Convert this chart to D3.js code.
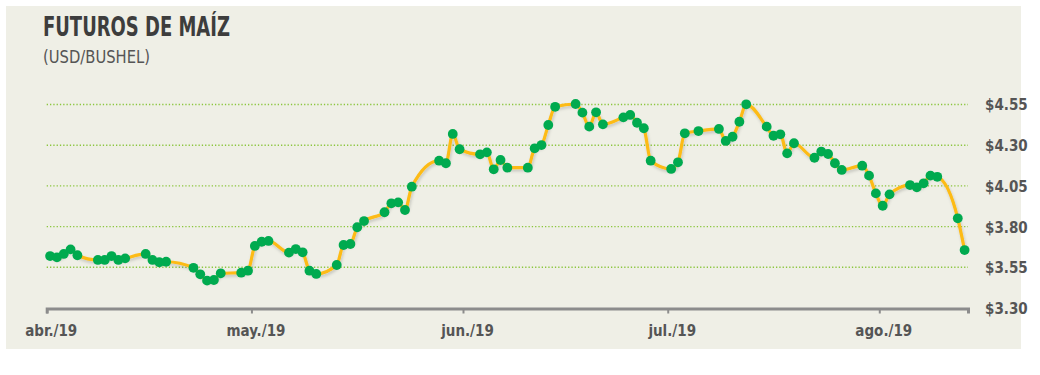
<!DOCTYPE html>
<html>
<head>
<meta charset="utf-8">
<script src="https://cdn.jsdelivr.net/npm/d3@7"></script>
<style>
  body { margin: 0; background: #fff; }
  svg { display: block; }
  text { font-family: "Liberation Sans Narrow", "DejaVu Sans Condensed", "Roboto", sans-serif; }
</style>
</head>
<body>
<svg id="s" width="1040" height="375"></svg>
<script>
const dates = [
  '2019-04-01', '2019-04-02', '2019-04-03', '2019-04-04', '2019-04-05',
  '2019-04-08', '2019-04-09', '2019-04-10', '2019-04-11', '2019-04-12',
  '2019-04-15', '2019-04-16', '2019-04-17', '2019-04-18',
  '2019-04-22', '2019-04-23', '2019-04-24', '2019-04-25', '2019-04-26',
  '2019-04-29', '2019-04-30', '2019-05-01', '2019-05-02', '2019-05-03',
  '2019-05-06', '2019-05-07', '2019-05-08', '2019-05-09', '2019-05-10',
  '2019-05-13', '2019-05-14', '2019-05-15', '2019-05-16', '2019-05-17',
  '2019-05-20', '2019-05-21', '2019-05-22', '2019-05-23', '2019-05-24',
  '2019-05-28', '2019-05-29', '2019-05-30', '2019-05-31',
  '2019-06-03', '2019-06-04', '2019-06-05', '2019-06-06', '2019-06-07',
  '2019-06-10', '2019-06-11', '2019-06-12', '2019-06-13', '2019-06-14',
  '2019-06-17', '2019-06-18', '2019-06-19', '2019-06-20', '2019-06-21',
  '2019-06-24', '2019-06-25', '2019-06-26', '2019-06-27', '2019-06-28',
  '2019-07-01', '2019-07-02', '2019-07-03', '2019-07-05',
  '2019-07-08', '2019-07-09', '2019-07-10', '2019-07-11', '2019-07-12',
  '2019-07-15', '2019-07-16', '2019-07-17', '2019-07-18', '2019-07-19',
  '2019-07-22', '2019-07-23', '2019-07-24', '2019-07-25', '2019-07-26',
  '2019-07-29', '2019-07-30', '2019-07-31', '2019-08-01', '2019-08-02',
  '2019-08-05', '2019-08-06', '2019-08-07', '2019-08-08', '2019-08-09',
  '2019-08-12', '2019-08-13',
];
const prices = [
  3.619, 3.611, 3.632, 3.660, 3.624,
  3.595, 3.595, 3.619, 3.595, 3.605,
  3.632, 3.595, 3.581, 3.584,
  3.547, 3.507, 3.468, 3.472, 3.513,
  3.517, 3.529, 3.681, 3.707, 3.712,
  3.640, 3.662, 3.642, 3.529, 3.509,
  3.564, 3.687, 3.693, 3.796, 3.834,
  3.888, 3.943, 3.949, 3.902, 4.045,
  4.205, 4.189, 4.369, 4.275,
  4.244, 4.256, 4.152, 4.209, 4.162,
  4.162, 4.281, 4.301, 4.424, 4.536,
  4.553, 4.500, 4.414, 4.502, 4.428,
  4.471, 4.486, 4.438, 4.404, 4.205,
  4.154, 4.195, 4.373, 4.387,
  4.400, 4.326, 4.352, 4.444, 4.551,
  4.414, 4.358, 4.367, 4.250, 4.312,
  4.223, 4.261, 4.246, 4.189, 4.148,
  4.174, 4.113, 4.004, 3.928, 3.998,
  4.055, 4.041, 4.066, 4.113, 4.106,
  3.851, 3.656,
];
const yTicks = [3.30, 3.55, 3.80, 4.05, 4.30, 4.55];
const monthTicks = ['2019-04-01', '2019-05-01', '2019-06-01', '2019-07-01', '2019-08-01'];
const monthLabels = ['abr./19', 'may./19', 'jun./19', 'jul./19', 'ago./19'];

const parse = d3.timeParse('%Y-%m-%d');
// points sit in the middle of their day
const data = dates.map((d, i) => ({ date: d3.timeHour.offset(parse(d), 12), value: prices[i] }));

const svg = d3.select('#s');

svg.append('rect')
  .attr('x', 6).attr('y', 6)
  .attr('width', 1015).attr('height', 343)
  .attr('fill', '#efefe6');

const x = d3.scaleTime()
  .domain([parse('2019-04-01'), parse('2019-08-14')])
  .range([46.7, 968]);
const y = d3.scaleLinear()
  .domain([3.30, 4.55])
  .range([308, 104.5]);

const defs = svg.append('defs');
defs.append('filter').attr('id', 'sh')
  .attr('x', '-5%').attr('y', '-20%').attr('width', '110%').attr('height', '140%')
  .append('feDropShadow')
  .attr('dx', 1).attr('dy', 2).attr('stdDeviation', 1.5)
  .attr('flood-color', '#000').attr('flood-opacity', 0.18);

// titles (squeezed to the condensed face of the original)
svg.append('text')
  .attr('x', 43).attr('y', 36)
  .attr('font-size', 27).attr('font-weight', 'bold')
  .attr('fill', '#3d3d3d')
  .attr('textLength', 187).attr('lengthAdjust', 'spacingAndGlyphs')
  .text('FUTUROS DE MAÍZ');
svg.append('text')
  .attr('x', 43).attr('y', 63)
  .attr('font-size', 18)
  .attr('fill', '#555')
  .attr('textLength', 107).attr('lengthAdjust', 'spacingAndGlyphs')
  .text('(USD/BUSHEL)');

// gridlines
svg.append('g')
  .selectAll('line')
  .data(yTicks.slice(1))
  .enter()
  .append('line')
  .attr('x1', x.range()[0]).attr('x2', x.range()[1])
  .attr('y1', d => y(d)).attr('y2', d => y(d))
  .attr('stroke', '#8cc63f')
  .attr('stroke-width', 1.4)
  .attr('stroke-dasharray', '1.3,2');

// y labels
const yAxis = svg.append('g')
  .attr('transform', 'translate(985,0)')
  .call(d3.axisRight(y).tickValues(yTicks).tickSize(0).tickPadding(0).tickFormat(d => '$' + d.toFixed(2)));
yAxis.select('.domain').remove();
yAxis.selectAll('text')
  .attr('font-size', 15).attr('font-weight', 'bold')
  .attr('fill', '#555')
  .attr('dy', '0.36em');

// x axis
const xAxis = svg.append('g')
  .attr('transform', 'translate(0,308.5)')
  .call(d3.axisBottom(x)
    .tickValues(monthTicks.map(parse))
    .tickSizeOuter(0)
    .tickSize(5)
    .tickPadding(12)
    .tickFormat((d, i) => monthLabels[i]));
xAxis.select('.domain').attr('stroke', '#8c8c8c').attr('stroke-width', 3);
xAxis.selectAll('.tick line').attr('stroke', '#8c8c8c').attr('stroke-width', 2);
xAxis.selectAll('.tick text')
  .attr('font-size', 15).attr('font-weight', 'bold')
  .attr('fill', '#555')
  .attr('dx', 4);

// series
const line = d3.line()
  .x(d => x(d.date))
  .y(d => y(d.value))
  .curve(d3.curveMonotoneX);

svg.append('path')
  .datum(data)
  .attr('d', line)
  .attr('fill', 'none')
  .attr('stroke', '#fdbb14')
  .attr('stroke-width', 3.2)
  .attr('stroke-linejoin', 'round')
  .attr('filter', 'url(#sh)');

svg.append('g')
  .selectAll('circle')
  .data(data)
  .enter()
  .append('circle')
  .attr('cx', d => x(d.date))
  .attr('cy', d => y(d.value))
  .attr('r', 4.9)
  .attr('fill', '#00aa4f');
</script>
</body>
</html>
